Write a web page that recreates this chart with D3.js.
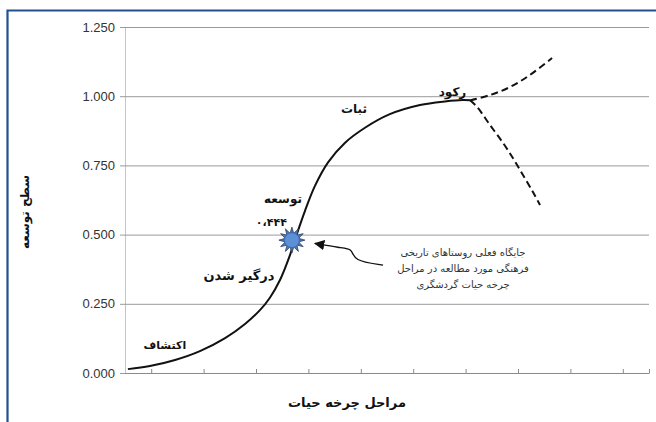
<!DOCTYPE html>
<html lang="fa">
<head>
<meta charset="UTF-8">
<title>Life cycle</title>
<style>
    * { margin: 0; padding: 0; }
    body { background: #fff; }
    svg { display: block; font-family: "DejaVu Sans", "Noto Sans", sans-serif; }
</style>
<script src="https://cdn.jsdelivr.net/npm/d3@7"></script>
</head>
<body>
<div id="chart"></div>
<script>
// y ticks
var yTicks = [0, 0.25, 0.5, 0.75, 1.0, 1.25];
// x ticks (category boundaries)
var xTicks = [1, 3, 5, 7, 9, 11, 13, 15, 17, 19, 20];

// main S-curve (solid)
var mainX = [0.11, 0.95, 1.91, 2.86, 3.82, 4.58, 5.15, 5.53, 5.92, 6.30, 6.56, 6.87, 7.25, 7.75, 8.40, 9.16, 10.11, 11.26, 12.21, 12.90, 13.17];
var mainY = [0.014, 0.025, 0.047, 0.079, 0.126, 0.177, 0.227, 0.272, 0.337, 0.427, 0.502, 0.586, 0.676, 0.761, 0.832, 0.886, 0.935, 0.968, 0.981, 0.986, 0.985];

// rising branch (dashed)
var upX = [13.17, 13.93, 14.69, 15.46, 16.3];
var upY = [0.985, 1.004, 1.033, 1.077, 1.138];

// declining branch (dashed)
var downX = [13.17, 13.44, 13.93, 14.43, 14.81, 15.19, 15.57, 15.84];
var downY = [0.985, 0.961, 0.896, 0.831, 0.776, 0.715, 0.654, 0.607];

// current position
var pointX = 6.37, pointY = 0.48;
var pointLabel = '۰،۴۴۴';

// stage labels
var stageNames = ['اکتشاف', 'درگیر شدن', 'توسعه', 'ثبات', 'رکود'];
var stageX = [1.52, 4.35, 6.03, 8.74, 12.5];
var stageY = [0.085, 0.335, 0.615, 0.94, 1.00];
var stageSize = [11, 13, 12, 12, 12];

var noteLines = ['جایگاه فعلی روستاهای تاریخی', 'فرهنگی مورد مطالعه در مراحل', 'چرخه حیات گردشگری'];

var w = 656, h = 422;
var svg = d3.select('#chart').append('svg').attr('width', w).attr('height', h);

var xScale = d3.scaleLinear().domain([0, 20]).range([125, 649]);
var yScale = d3.scaleLinear().domain([0, 1.25]).range([373, 27]);

// frame
svg.append('path')
    .attr('d', 'M7.5,422 L7.5,10.5 L656,10.5')
    .attr('fill', 'none')
    .attr('stroke', '#24518e')
    .attr('stroke-width', 2.2);

// grid + y axis
var yAxis = d3.axisLeft(yScale)
    .tickValues(yTicks)
    .tickFormat(d3.format('.3f'))
    .tickSizeInner(-(649 - 125) )
    .tickSizeOuter(0)
    .tickPadding(10);
var gy = svg.append('g').attr('transform', 'translate(125,0)').call(yAxis);
gy.select('.domain').attr('stroke', '#c4c4c4');
gy.selectAll('.tick line').attr('stroke', '#9a9a9a').attr('x1', -5);
gy.selectAll('.tick text')
    .attr('fill', '#333')
    .style('font-family', '"Liberation Sans", Arial, sans-serif')
    .style('font-size', '13px');

// x axis
var xAxis = d3.axisBottom(xScale)
    .tickValues(xTicks)
    .tickFormat('')
    .tickSizeInner(-4)
    .tickSizeOuter(0);
var gx = svg.append('g').attr('transform', 'translate(0,373)').call(xAxis);
gx.select('.domain').attr('stroke', '#8a8a8a');
gx.selectAll('.tick line').attr('stroke', '#8a8a8a');

var line = d3.line()
    .x(function (d) { return xScale(d[0]); })
    .y(function (d) { return yScale(d[1]); })
    .curve(d3.curveCatmullRom);

var mainData = d3.zip(mainX, mainY);
var upData = d3.zip(upX, upY);
var downData = d3.zip(downX, downY);

svg.append('path').datum(mainData)
    .attr('d', line).attr('fill', 'none')
    .attr('stroke', '#111').attr('stroke-width', 2);

svg.append('path').datum(upData)
    .attr('d', line).attr('fill', 'none')
    .attr('stroke', '#111').attr('stroke-width', 2)
    .attr('stroke-dasharray', '7,4');

svg.append('path').datum(downData)
    .attr('d', line).attr('fill', 'none')
    .attr('stroke', '#111').attr('stroke-width', 2)
    .attr('stroke-dasharray', '7,4');

// star marker
var cx = xScale(pointX), cy = yScale(pointY);
var starPts = [];
for (var i = 0; i < 24; i++) {
    var r = i % 2 === 0 ? 13 : 7;
    var a = Math.PI * i / 12;
    starPts.push([cx + r * Math.cos(a), cy + r * Math.sin(a)]);
}
svg.append('polygon')
    .attr('points', starPts.map(function (p) { return p.join(','); }).join(' '))
    .attr('fill', '#5577aa')
    .attr('stroke', '#2a3f66')
    .attr('stroke-width', 0.8);
svg.append('circle')
    .attr('cx', cx).attr('cy', cy).attr('r', 7.5)
    .attr('fill', '#5b8fd8')
    .attr('stroke', '#3d6bb0')
    .attr('stroke-width', 1);

svg.append('text')
    .attr('x', xScale(pointX) - 5)
    .attr('y', yScale(pointY) - 14)
    .attr('text-anchor', 'end')
    .attr('direction', 'ltr')
    .style('font-size', '11px')
    .style('font-weight', 'bold')
    .attr('fill', '#111')
    .text(pointLabel);

// stage labels
svg.selectAll('.stage')
    .data(stageNames)
    .enter()
    .append('text')
    .attr('class', 'stage')
    .attr('x', function (d, i) { return xScale(stageX[i]); })
    .attr('y', function (d, i) { return yScale(stageY[i]); })
    .attr('text-anchor', 'middle')
    .style('font-size', function (d, i) { return stageSize[i] + 'px'; })
    .style('font-weight', 'bold')
    .attr('fill', '#111')
    .text(function (d) { return d; });

// note + arrow
var defs = svg.append('defs');
defs.append('marker')
    .attr('id', 'arr')
    .attr('viewBox', '0 0 10 10')
    .attr('refX', 9).attr('refY', 5)
    .attr('markerWidth', 8).attr('markerHeight', 8)
    .attr('orient', 'auto')
    .append('path').attr('d', 'M0,0 L10,5 L0,10 Z').attr('fill', '#111');

var arrowPts = [[9.85, 0.390], [8.7, 0.405], [8.7, 0.45], [8.2, 0.452], [7.25, 0.468]];
svg.append('path')
    .datum(arrowPts)
    .attr('d', d3.line()
        .x(function (d) { return xScale(d[0]); })
        .y(function (d) { return yScale(d[1]); })
        .curve(d3.curveBasis))
    .attr('fill', 'none')
    .attr('stroke', '#111')
    .attr('stroke-width', 1.3)
    .attr('marker-end', 'url(#arr)');

svg.selectAll('.note')
    .data(noteLines)
    .enter()
    .append('text')
    .attr('class', 'note')
    .attr('x', 463)
    .attr('y', function (d, i) { return 256 + i * 16; })
    .attr('text-anchor', 'middle')
    .style('font-size', '10px')
    .attr('fill', '#333')
    .text(function (d) { return d; });

// axis titles
svg.append('text')
    .attr('transform', 'translate(29,212) rotate(-90)')
    .attr('text-anchor', 'middle')
    .style('font-size', '12px')
    .style('font-weight', 'bold')
    .attr('fill', '#111')
    .text('سطح توسعه');

svg.append('text')
    .attr('x', 347)
    .attr('y', 407)
    .attr('text-anchor', 'middle')
    .style('font-size', '13px')
    .style('font-weight', 'bold')
    .attr('fill', '#111')
    .text('مراحل چرخه حیات');
</script>
</body>
</html>
